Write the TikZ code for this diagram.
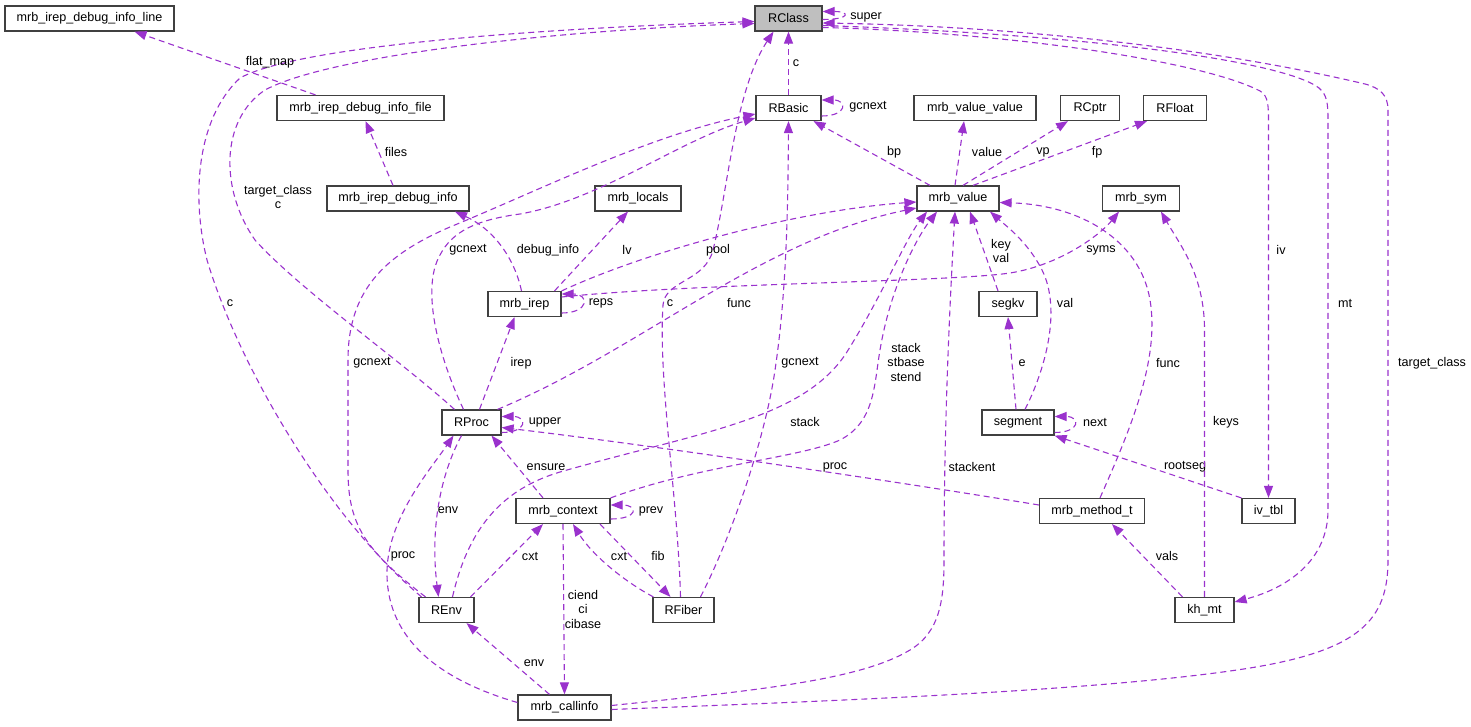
\documentclass[tikz,border=0pt]{standalone}
\usepackage{fontspec}
\setmainfont{Liberation Sans}
\usetikzlibrary{arrows.meta,positioning}
\definecolor{relcol}{HTML}{9A32CD}
\definecolor{focusgray}{HTML}{BFBFBF}
\newcommand{\dxfont}{\fontsize{12.6}{14.5}\selectfont}

\begin{document}
\begin{tikzpicture}[x=1pt,y=-1pt,
  cls/.style={draw=black!75,line width=1.2pt,fill=white,minimum height=25pt,inner sep=0pt,font=\dxfont},
  rel/.style={draw=relcol,line width=1.1pt,dash pattern=on 6pt off 4pt,-{Triangle[length=12pt,width=9pt]}},
  lbl/.style={inner sep=0pt,font=\dxfont,align=center}]
\useasboundingbox (0,0) rectangle (1471,727);
\node[cls,minimum width=169pt](d_line) at (89.5,18.5){mrb\_irep\_debug\_info\_line};
\node[cls,minimum width=67pt,fill=focusgray](RClass) at (788.5,18.5){RClass};
\node[cls,minimum width=167pt](d_file) at (360.5,108){mrb\_irep\_debug\_info\_file};
\node[cls,minimum width=65pt](RBasic) at (788.5,108){RBasic};
\node[cls,minimum width=122pt](m_vv) at (975,108){mrb\_value\_value};
\node[cls,minimum width=59pt](RCptr) at (1090,108){RCptr};
\node[cls,minimum width=63pt](RFloat) at (1175,108){RFloat};
\node[cls,minimum width=142pt](d_info) at (398,198.5){mrb\_irep\_debug\_info};
\node[cls,minimum width=86pt](m_locals) at (638,198.5){mrb\_locals};
\node[cls,minimum width=82pt](m_value) at (958,198.5){mrb\_value};
\node[cls,minimum width=77pt](m_sym) at (1141,198.5){mrb\_sym};
\node[cls,minimum width=73pt](m_irep) at (524.5,304){mrb\_irep};
\node[cls,minimum width=58pt](segkv) at (1008,304){segkv};
\node[cls,minimum width=59pt](RProc) at (471.5,422.5){RProc};
\node[cls,minimum width=72pt](segment) at (1018,422.5){segment};
\node[cls,minimum width=94pt](m_ctx) at (563,511){mrb\_context};
\node[cls,minimum width=105pt](m_meth) at (1092,511){mrb\_method\_t};
\node[cls,minimum width=53pt](iv_tbl) at (1268.5,511){iv\_tbl};
\node[cls,minimum width=55pt](REnv) at (446.5,610){REnv};
\node[cls,minimum width=61pt](RFiber) at (683.5,610){RFiber};
\node[cls,minimum width=59pt](kh_mt) at (1204.5,610){kh\_mt};
\node[cls,minimum width=93pt](m_ci) at (564.5,707.5){mrb\_callinfo};
\draw[rel] ([shift={(0,1)}]RClass.east) .. controls +(28,0) and +(28,0) .. ([shift={(0,-7)}]RClass.east) node[lbl](l_super) at (866,17){super};
\draw[rel] (RBasic.north) -- (RClass.south) node[lbl](l_c1) at (796,63){c};
\draw[rel] ([shift={(-17,0)}]RProc.north) .. controls (400,360) and (300,290) .. (255,240) .. controls (220,190) and (220,120) .. (265,90) .. controls (330,55) and (560,30) .. ([shift={(0,5)}]RClass.west) node[lbl](l_tc1) at (278,197){target\_class\\c};
\draw[rel] ([shift={(-25,0)}]REnv.north) .. controls (330,520) and (240,370) .. (207,260) .. controls (192,200) and (195,120) .. (240,78) .. controls (300,45) and (550,28) .. ([shift={(0,3)}]RClass.west) node[lbl](l_c2) at (230,303){c};
\draw[rel] ([shift={(-3,0)}]RFiber.north) .. controls (678,500) and (658,380) .. (663,305) .. controls (665,280) and (705,282) .. (713,250) .. controls (728,190) and (735,90) .. ([shift={(-15,0)}]RClass.south) node[lbl](l_c3) at (670,303){c};
\draw[rel] ([shift={(0,8)}]RBasic.east) .. controls +(26,0) and +(26,0) .. ([shift={(0,-8)}]RBasic.east) node[lbl](l_gc1) at (868,107){gcnext};
\draw[rel] ([shift={(-8,0)}]RProc.north) .. controls (440,360) and (420,290) .. (440,255) .. controls (452,232) and (475,220) .. (520,214) .. controls (600,200) and (680,140) .. ([shift={(0,10)}]RBasic.west) node[lbl](l_gc2) at (468,250){gcnext};
\draw[rel] ([shift={(-21,0)}]REnv.north) .. controls (365,550) and (348,525) .. (348,470) -- (348,360) .. controls (348,290) and (385,255) .. (450,227) .. controls (540,190) and (650,135) .. ([shift={(0,6)}]RBasic.west) node[lbl](l_gc3) at (372,363){gcnext};
\draw[rel] ([shift={(17,0)}]RFiber.north) .. controls (730,540) and (765,440) .. (775,370) .. controls (787,290) and (788,200) .. (RBasic.south) node[lbl](l_gc4) at (800,363){gcnext};
\draw[rel] ([shift={(-28,0)}]m_value.north) -- ([shift={(25,0)}]RBasic.south) node[lbl](l_bp) at (894,152){bp};
\draw[rel] ([shift={(-3,0)}]m_value.north) -- ([shift={(-11,0)}]m_vv.south) node[lbl](l_value) at (987,152){value};
\draw[rel] ([shift={(5,0)}]m_value.north) -- ([shift={(-22,0)}]RCptr.south) node[lbl](l_vp) at (1043,152){vp};
\draw[rel] ([shift={(15,0)}]m_value.north) -- ([shift={(-28,0)}]RFloat.south) node[lbl](l_fp) at (1097,152){fp};
\draw[rel] ([shift={(-3,0)}]m_irep.north) .. controls (515,260) and (495,230) .. ([shift={(57,0)}]d_info.south) node[lbl](l_dbg) at (548,250){debug\_info};
\draw[rel] ([shift={(-5,0)}]d_info.north) -- ([shift={(5,0)}]d_file.south) node[lbl](l_files) at (396,152){files};
\draw[rel] ([shift={(-45,0)}]d_file.north) -- ([shift={(45,0)}]d_line.south) node[lbl](l_fmap) at (270,62){flat\_map};
\draw[rel] ([shift={(0,9)}]m_irep.east) .. controls +(28,0) and +(28,0) .. ([shift={(0,-10)}]m_irep.east) node[lbl](l_reps) at (601,303){reps};
\draw[rel] ([shift={(30,0)}]m_irep.north) -- ([shift={(-10,0)}]m_locals.south) node[lbl](l_lv) at (627,250){lv};
\draw[rel] (m_irep.north east) .. controls (650,250) and (800,210) .. ([shift={(0,3.5)}]m_value.west) node[lbl](l_pool) at (718,250){pool};
\draw[rel] ([shift={(0,-7)}]m_irep.east) .. controls (700,283) and (950,282) .. (1010,273) .. controls (1060,265) and (1100,235) .. ([shift={(-22,0)}]m_sym.south) node[lbl](l_syms) at (1101,250){syms};
\draw[rel] ([shift={(8,0)}]RProc.north) -- ([shift={(-10,0)}]m_irep.south) node[lbl](l_irep) at (521,363){irep};
\draw[rel] ([shift={(26,0)}]RProc.north) .. controls (640,350) and (760,240) .. ([shift={(0,9.5)}]m_value.west) node[lbl](l_func1) at (739,303){func};
\draw[rel] ([shift={(0,10)}]RProc.east) .. controls +(26,0) and +(26,0) .. ([shift={(0,-6)}]RProc.east) node[lbl](l_upper) at (545,422){upper};
\draw[rel] ([shift={(0,-6)}]m_meth.west) .. controls (900,482) and (650,445) .. ([shift={(0,5)}]RProc.east) node[lbl](l_proc1) at (835,467){proc};
\draw[rel] ([shift={(-20,0)}]m_ctx.north) -- ([shift={(20,0)}]RProc.south) node[lbl](l_ensure) at (546,467){ensure};
\draw[rel] ([shift={(-10,0)}]RProc.south) .. controls (440,475) and (430,530) .. ([shift={(-8,0)}]REnv.north) node[lbl](l_env1) at (448,510){env};
\draw[rel] ([shift={(0,-5)}]m_ci.west) .. controls (440,680) and (388,640) .. (387,575) .. controls (386,520) and (430,470) .. ([shift={(-18,0)}]RProc.south) node[lbl](l_proc2) at (403,556){proc};
\draw[rel] ([shift={(-15,0)}]m_ci.north) -- ([shift={(20,0)}]REnv.south) node[lbl](l_env2) at (534,663){env};
\draw[rel] ([shift={(24,0)}]REnv.north) -- ([shift={(-20,0)}]m_ctx.south) node[lbl](l_cxt1) at (530,556){cxt};
\draw[rel] ([shift={(0,8)}]m_ctx.east) .. controls +(28,0) and +(28,0) .. ([shift={(0,-6)}]m_ctx.east) node[lbl](l_prev) at (651,511){prev};
\draw[rel] (m_ctx.south) -- (m_ci.north) node[lbl](l_ci) at (583,609){ciend\\ci\\cibase};
\draw[rel] ([shift={(37,0)}]m_ctx.south) -- ([shift={(-13,0)}]RFiber.north) node[lbl](l_fib) at (658,556){fib};
\draw[rel] ([shift={(1,0)}]RFiber.north west) .. controls (625,582) and (592,555) .. ([shift={(10,0)}]m_ctx.south) node[lbl](l_cxt2) at (619,556){cxt};
\draw[rel] ([shift={(6,0)}]REnv.north) .. controls (468,530) and (500,490) .. (560,472) .. controls (700,432) and (800,420) .. (845,355) .. controls (880,300) and (905,240) .. ([shift={(-31,0)}]m_value.south) node[lbl](l_stack1) at (805,422){stack};
\draw[rel] (m_ctx.north east) .. controls (700,465) and (800,458) .. (840,440) .. controls (875,422) and (874,385) .. (880,350) .. controls (890,290) and (915,240) .. ([shift={(-21,0)}]m_value.south) node[lbl](l_stack2) at (906,362){stack\\stbase\\stend};
\draw[rel] ([shift={(0,-2)}]m_ci.east) .. controls (760,690) and (860,680) .. (910,650) .. controls (940,632) and (944,600) .. (944,560) .. controls (944,420) and (950,300) .. ([shift={(-3,0)}]m_value.south) node[lbl](l_stackent) at (972,467){stackent};
\draw[rel] ([shift={(-10,0)}]segkv.north) -- ([shift={(12,0)}]m_value.south) node[lbl](l_keyval) at (1001,251){key\\val};
\draw[rel] ([shift={(-2,0)}]segment.north) -- (segkv.south) node[lbl](l_e) at (1022,363){e};
\draw[rel] ([shift={(7,0)}]segment.north) .. controls (1045,370) and (1062,310) .. (1042,270) .. controls (1028,242) and (1005,225) .. ([shift={(32,0)}]m_value.south) node[lbl](l_val) at (1065,303){val};
\draw[rel] ([shift={(0,10)}]segment.east) .. controls +(26,0) and +(26,0) .. ([shift={(0,-6)}]segment.east) node[lbl](l_next) at (1095,422){next};
\draw[rel] (iv_tbl.north west) -- (segment.south east) node[lbl](l_rootseg) at (1185,467){rootseg};
\draw[rel] ([shift={(-22,0)}]kh_mt.north) -- ([shift={(20,0)}]m_meth.south) node[lbl](l_vals) at (1167,556){vals};
\draw[rel] (kh_mt.north) -- (1204.5,330) .. controls (1204.5,275) and (1180,245) .. ([shift={(20,0)}]m_sym.south) node[lbl](l_keys) at (1226,422){keys};
\draw[rel] ([shift={(8,0)}]m_meth.north) .. controls (1130,430) and (1160,360) .. (1150,300) .. controls (1140,240) and (1080,205) .. ([shift={(0,4)}]m_value.east) node[lbl](l_func2) at (1168,363){func};
\draw[rel] ([shift={(0,9)}]RClass.east) .. controls (1000,32) and (1200,60) .. (1260,91) .. controls (1268.5,96) and (1268.5,105) .. (1268.5,125) -- (iv_tbl.north) node[lbl](l_iv) at (1281,250){iv};
\draw[rel] ([shift={(0,7)}]RClass.east) .. controls (1100,35) and (1285,62) .. (1319,88) .. controls (1327,95) and (1328,103) .. (1328,120) -- (1328,510) .. controls (1328,560) and (1288,588) .. ([shift={(0,-8)}]kh_mt.east) node[lbl](l_mt) at (1345,303){mt};
\draw[rel] ([shift={(0,2)}]m_ci.east) .. controls (800,702) and (1100,692) .. (1250,668) .. controls (1360,650) and (1388,620) .. (1388,560) -- (1388,110) .. controls (1388,95) and (1380,88) .. (1365,84) .. controls (1200,45) and (1000,26) .. ([shift={(0,4.5)}]RClass.east) node[lbl](l_tc2) at (1432,363){target\_class};
\end{tikzpicture}
\end{document}
